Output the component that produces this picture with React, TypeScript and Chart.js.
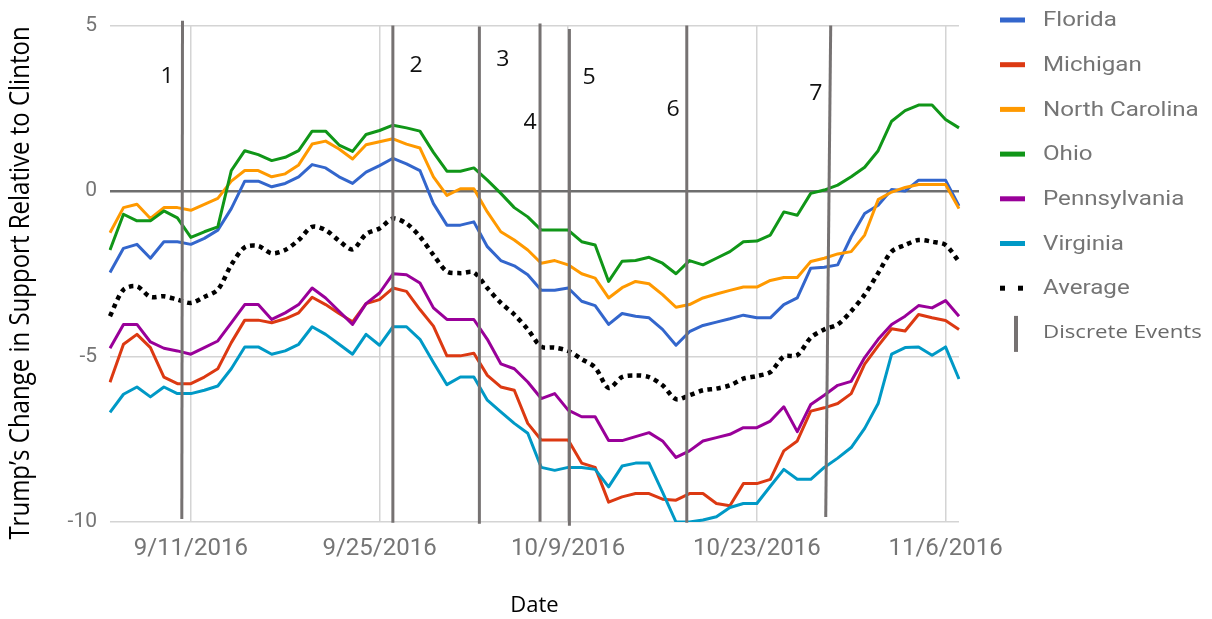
import React, { useEffect, useRef } from "react";
import { Chart, registerables } from "chart.js";

Chart.register(...registerables);

// ---------- DATA ----------
const dates: string[] = [
  "9/5/2016", "9/6/2016", "9/7/2016", "9/8/2016", "9/9/2016", "9/10/2016", "9/11/2016", "9/12/2016",
  "9/13/2016", "9/14/2016", "9/15/2016", "9/16/2016", "9/17/2016", "9/18/2016", "9/19/2016", "9/20/2016",
  "9/21/2016", "9/22/2016", "9/23/2016", "9/24/2016", "9/25/2016", "9/26/2016", "9/27/2016", "9/28/2016",
  "9/29/2016", "9/30/2016", "10/1/2016", "10/2/2016", "10/3/2016", "10/4/2016", "10/5/2016", "10/6/2016",
  "10/7/2016", "10/8/2016", "10/9/2016", "10/10/2016", "10/11/2016", "10/12/2016", "10/13/2016", "10/14/2016",
  "10/15/2016", "10/16/2016", "10/17/2016", "10/18/2016", "10/19/2016", "10/20/2016", "10/21/2016", "10/22/2016",
  "10/23/2016", "10/24/2016", "10/25/2016", "10/26/2016", "10/27/2016", "10/28/2016", "10/29/2016", "10/30/2016",
  "10/31/2016", "11/1/2016", "11/2/2016", "11/3/2016", "11/4/2016", "11/5/2016", "11/6/2016", "11/7/2016",
];

const tickLabels: string[] = ["9/11/2016", "9/25/2016", "10/9/2016", "10/23/2016", "11/6/2016"];
const yTicks: number[] = [5, 0, -5, -10];

const florida: number[] = [
  -2.46, -1.73, -1.61, -2.03, -1.53, -1.53, -1.61, -1.43, -1.18, -0.53,
  0.30, 0.30, 0.13, 0.23, 0.43, 0.80, 0.70, 0.43, 0.23, 0.57,
  0.77, 0.99, 0.82, 0.62, -0.38, -1.03, -1.03, -0.93, -1.68, -2.10,
  -2.26, -2.53, -3.00, -3.00, -2.93, -3.33, -3.46, -4.03, -3.70, -3.78,
  -3.83, -4.18, -4.66, -4.25, -4.06, -3.96, -3.86, -3.75, -3.83, -3.83,
  -3.43, -3.23, -2.33, -2.30, -2.23, -1.38, -0.68, -0.43, 0.05, 0.00,
  0.33, 0.33, 0.33, -0.45,
];

const michigan: number[] = [
  -5.78, -4.63, -4.33, -4.73, -5.62, -5.82, -5.82, -5.62, -5.37, -4.58,
  -3.90, -3.90, -3.98, -3.86, -3.68, -3.21, -3.43, -3.70, -3.95, -3.40,
  -3.28, -2.93, -3.03, -3.58, -4.08, -4.98, -4.98, -4.90, -5.57, -5.92,
  -6.02, -7.02, -7.52, -7.52, -7.52, -8.22, -8.35, -9.40, -9.24, -9.14,
  -9.14, -9.31, -9.34, -9.14, -9.14, -9.44, -9.51, -8.84, -8.84, -8.71,
  -7.85, -7.55, -6.65, -6.55, -6.42, -6.12, -5.23, -4.68, -4.16, -4.23,
  -3.73, -3.83, -3.91, -4.18,
];

const northCarolina: number[] = [
  -1.26, -0.50, -0.40, -0.83, -0.50, -0.50, -0.58, -0.40, -0.22, 0.30,
  0.62, 0.62, 0.43, 0.52, 0.79, 1.42, 1.51, 1.27, 0.97, 1.40,
  1.49, 1.58, 1.42, 1.30, 0.43, -0.13, 0.07, 0.07, -0.63, -1.23,
  -1.48, -1.78, -2.18, -2.10, -2.23, -2.50, -2.63, -3.23, -2.92, -2.73,
  -2.80, -3.13, -3.51, -3.43, -3.23, -3.11, -3.00, -2.90, -2.90, -2.70,
  -2.61, -2.61, -2.13, -2.03, -1.90, -1.83, -1.33, -0.26, -0.03, 0.11,
  0.20, 0.20, 0.20, -0.53,
];

const ohio: number[] = [
  -1.78, -0.70, -0.90, -0.90, -0.60, -0.81, -1.40, -1.23, -1.08, 0.62,
  1.22, 1.10, 0.92, 1.02, 1.22, 1.81, 1.81, 1.39, 1.20, 1.71,
  1.83, 1.99, 1.91, 1.81, 1.17, 0.60, 0.60, 0.70, 0.33, -0.07,
  -0.50, -0.78, -1.18, -1.18, -1.18, -1.53, -1.63, -2.73, -2.12, -2.10,
  -2.00, -2.18, -2.50, -2.10, -2.23, -2.03, -1.83, -1.53, -1.51, -1.33,
  -0.63, -0.73, -0.07, 0.03, 0.18, 0.43, 0.72, 1.22, 2.11, 2.43,
  2.60, 2.60, 2.16, 1.91,
];

const pennsylvania: number[] = [
  -4.75, -4.03, -4.03, -4.56, -4.75, -4.83, -4.93, -4.73, -4.53, -3.98,
  -3.43, -3.43, -3.88, -3.68, -3.43, -2.93, -3.23, -3.63, -4.03, -3.40,
  -3.08, -2.50, -2.53, -2.78, -3.53, -3.88, -3.88, -3.88, -4.48, -5.22,
  -5.37, -5.77, -6.27, -6.12, -6.62, -6.82, -6.82, -7.54, -7.54, -7.42,
  -7.30, -7.55, -8.05, -7.85, -7.55, -7.45, -7.35, -7.15, -7.15, -6.95,
  -6.52, -7.27, -6.45, -6.17, -5.87, -5.75, -5.03, -4.48, -4.03, -3.78,
  -3.46, -3.53, -3.31, -3.78,
];

const virginia: number[] = [
  -6.69, -6.14, -5.92, -6.22, -5.92, -6.12, -6.12, -6.02, -5.89, -5.37,
  -4.71, -4.71, -4.93, -4.83, -4.63, -4.10, -4.33, -4.63, -4.93, -4.33,
  -4.66, -4.10, -4.10, -4.48, -5.18, -5.85, -5.62, -5.62, -6.32, -6.67,
  -7.02, -7.32, -8.35, -8.44, -8.35, -8.35, -8.41, -8.94, -8.31, -8.22,
  -8.22, -9.10, -10.0, -10.0, -9.94, -9.84, -9.56, -9.44, -9.44, -8.92,
  -8.41, -8.71, -8.71, -8.35, -8.07, -7.75, -7.17, -6.42, -4.93, -4.73,
  -4.71, -4.96, -4.71, -5.68,
];

const average: number[] = [
  -3.78, -2.98, -2.88, -3.20, -3.18, -3.28, -3.38, -3.20, -2.98, -2.23,
  -1.70, -1.66, -1.88, -1.78, -1.48, -1.08, -1.18, -1.50, -1.76, -1.30,
  -1.13, -0.83, -0.98, -1.38, -1.93, -2.43, -2.48, -2.46, -2.93, -3.38,
  -3.73, -4.18, -4.70, -4.73, -4.83, -5.08, -5.33, -5.95, -5.62, -5.57,
  -5.62, -5.87, -6.29, -6.17, -6.02, -5.97, -5.87, -5.67, -5.59, -5.47,
  -5.00, -4.96, -4.43, -4.18, -4.03, -3.63, -3.13, -2.48, -1.83, -1.63,
  -1.48, -1.53, -1.63, -2.13,
];

// Discrete events (x in date-index units, y in value units)
const eventNames: string[] = ["1", "2", "3", "4", "5", "6", "7"];
const eventTopX: number[] = [5.38, 20.99, 27.41, 31.91, 34.09, 42.8, 53.48];
const eventBottomX: number[] = [5.33, 20.99, 27.41, 31.91, 34.09, 42.8, 53.11];
const eventTopY: number[] = [5.15, 5.0, 4.97, 5.06, 4.9, 5.0, 5.0];
const eventBottomY: number[] = [-9.91, -10.02, -10.05, -9.99, -10.11, -10.02, -9.85];
const eventLabelX: number[] = [4.24, 22.71, 29.16, 31.17, 35.55, 41.78, 52.38];
const eventLabelY: number[] = [3.45, 3.78, 3.96, 2.05, 3.42, 2.46, 2.94];

const seriesNames: string[] = ["Florida", "Michigan", "North Carolina", "Ohio", "Pennsylvania", "Virginia", "Average"];
const seriesColors: string[] = ["#3366cc", "#dc3912", "#ff9900", "#109618", "#990099", "#0099c6", "#000000"];
const eventLegendLabel = "Discrete Events";
const yTitle = "Trump\u2019s Change in Support Relative to Clinton";
const xTitle = "Date";

const EVENT_COLOR = "#767272";

function stretchedText(ctx: CanvasRenderingContext2D, text: string, x: number, y: number, sx: number) {
  ctx.save();
  ctx.translate(x, y);
  ctx.scale(sx, 1);
  ctx.fillText(text, 0, 0);
  ctx.restore();
}

const overlayPlugin = {
  id: "overlay",
  afterDatasetsDraw(chart: any) {
    const ctx = chart.ctx as CanvasRenderingContext2D;
    const xs = chart.scales.x;
    const ys = chart.scales.y;
    ctx.save();
    ctx.strokeStyle = EVENT_COLOR;
    ctx.lineWidth = 3;
    ctx.lineCap = "butt";
    for (let i = 0; i < eventNames.length; i++) {
      ctx.beginPath();
      ctx.moveTo(xs.getPixelForValue(eventTopX[i]), ys.getPixelForValue(eventTopY[i]));
      ctx.lineTo(xs.getPixelForValue(eventBottomX[i]), ys.getPixelForValue(eventBottomY[i]));
      ctx.stroke();
    }
    ctx.fillStyle = "#111";
    ctx.font = "21px 'Open Sans'";
    ctx.textAlign = "center";
    ctx.textBaseline = "middle";
    for (let i = 0; i < eventNames.length; i++) {
      stretchedText(ctx, eventNames[i], xs.getPixelForValue(eventLabelX[i]), ys.getPixelForValue(eventLabelY[i]), 1.1);
    }
    ctx.restore();
  },
  afterDraw(chart: any) {
    const ctx = chart.ctx as CanvasRenderingContext2D;
    ctx.save();
    // y axis title
    ctx.translate(21, 283);
    ctx.rotate(-Math.PI / 2);
    ctx.scale(1, 1.15);
    ctx.fillStyle = "#000";
    ctx.font = "24px 'Open Sans'";
    ctx.textAlign = "center";
    ctx.textBaseline = "middle";
    ctx.fillText(yTitle, 0, 0);
    ctx.restore();

    // legend
    ctx.save();
    const lx = 1000;
    const tx = 1043;
    const y0 = 20;
    const step = 44.7;
    ctx.textAlign = "left";
    ctx.textBaseline = "middle";
    for (let i = 0; i < seriesNames.length; i++) {
      const y = y0 + step * i;
      if (i < 6) {
        ctx.fillStyle = seriesColors[i];
        ctx.fillRect(lx, y - 2.5, 25, 5);
      } else {
        ctx.fillStyle = "#000";
        ctx.fillRect(lx, y - 2.5, 5, 5);
        ctx.fillRect(lx + 18, y - 2.5, 5, 5);
      }
      ctx.fillStyle = "#757575";
      ctx.font = "21px Roboto";
      stretchedText(ctx, seriesNames[i], tx, y + 1, 1.15);
    }
    const ey = y0 + step * 7;
    ctx.fillStyle = EVENT_COLOR;
    ctx.fillRect(1014, ey - 17, 4, 36);
    ctx.fillStyle = "#6a6a6a";
    ctx.font = "19px 'Open Sans'";
    stretchedText(ctx, eventLegendLabel, tx, ey, 1.17);
    ctx.restore();
  },
};

export default function App() {
  const ref = useRef<HTMLCanvasElement>(null);
  useEffect(() => {
    const canvas = ref.current!;
    const seriesData = [florida, michigan, northCarolina, ohio, pennsylvania, virginia, average];
    const datasets = seriesData.map((d, i) => {
      const isAvg = i === 6;
      return {
        label: seriesNames[i],
        data: d,
        borderColor: seriesColors[i],
        backgroundColor: seriesColors[i],
        borderWidth: isAvg ? 4.5 : 3,
        borderDash: isAvg ? [4.5, 4.5] : [],
        pointRadius: 0,
        pointHoverRadius: 0,
        tension: isAvg ? 0.3 : 0,
        borderJoinStyle: "round" as const,
        fill: false,
        order: 6 - i,
      };
    });
    const chart = new Chart(canvas, {
      type: "line",
      data: { labels: dates, datasets },
      options: {
        responsive: false,
        animation: false,
        events: [],
        layout: { padding: { left: 0, right: 253, top: 19, bottom: 0 } },
        plugins: {
          legend: { display: false },
          tooltip: { enabled: false },
          title: { display: false },
        },
        scales: {
          x: {
            type: "category",
            offset: false,
            border: { display: false },
            grid: {
              drawTicks: false,
              color: (c: any) => (tickLabels.includes(dates[c.index]) ? "#d4d4d4" : "rgba(0,0,0,0)"),
              lineWidth: 1.5,
            },
            ticks: {
              autoSkip: false,
              maxRotation: 0,
              minRotation: 0,
              padding: 13,
              color: "#757575",
              font: { family: "Roboto", size: 24 },
              callback: (_v: any, idx: number) => (tickLabels.includes(dates[idx]) ? dates[idx] : ""),
            },
            title: {
              display: true,
              text: xTitle,
              color: "#000",
              font: { family: "'Open Sans'", size: 22 },
              padding: { top: 0, bottom: 0 },
            },
            afterFit: (s: any) => {
              s.height = 97;
            },
          },
          y: {
            min: -10,
            max: 5,
            border: { display: false },
            grid: {
              drawTicks: false,
              color: (c: any) => (c.tick && c.tick.value === 0 ? "#6e6e6e" : "#d4d4d4"),
              lineWidth: (c: any) => (c.tick && c.tick.value === 0 ? 2.5 : 1.5),
            },
            afterBuildTicks: (s: any) => {
              s.ticks = yTicks.map((v) => ({ value: v }));
            },
            ticks: {
              padding: 13,
              color: "#757575",
              font: { family: "Roboto", size: 21 },
            },
            afterFit: (s: any) => {
              s.width = 110;
            },
          },
        },
      },
      plugins: [overlayPlugin],
    });
    return () => chart.destroy();
  }, []);
  return (
    <div style={{ position: "absolute", left: 0, top: 0, width: 1212, height: 619, background: "#fff" }}>
      <canvas ref={ref} width={1212} height={619} style={{ display: "block", width: 1212, height: 619 }} />
    </div>
  );
}
